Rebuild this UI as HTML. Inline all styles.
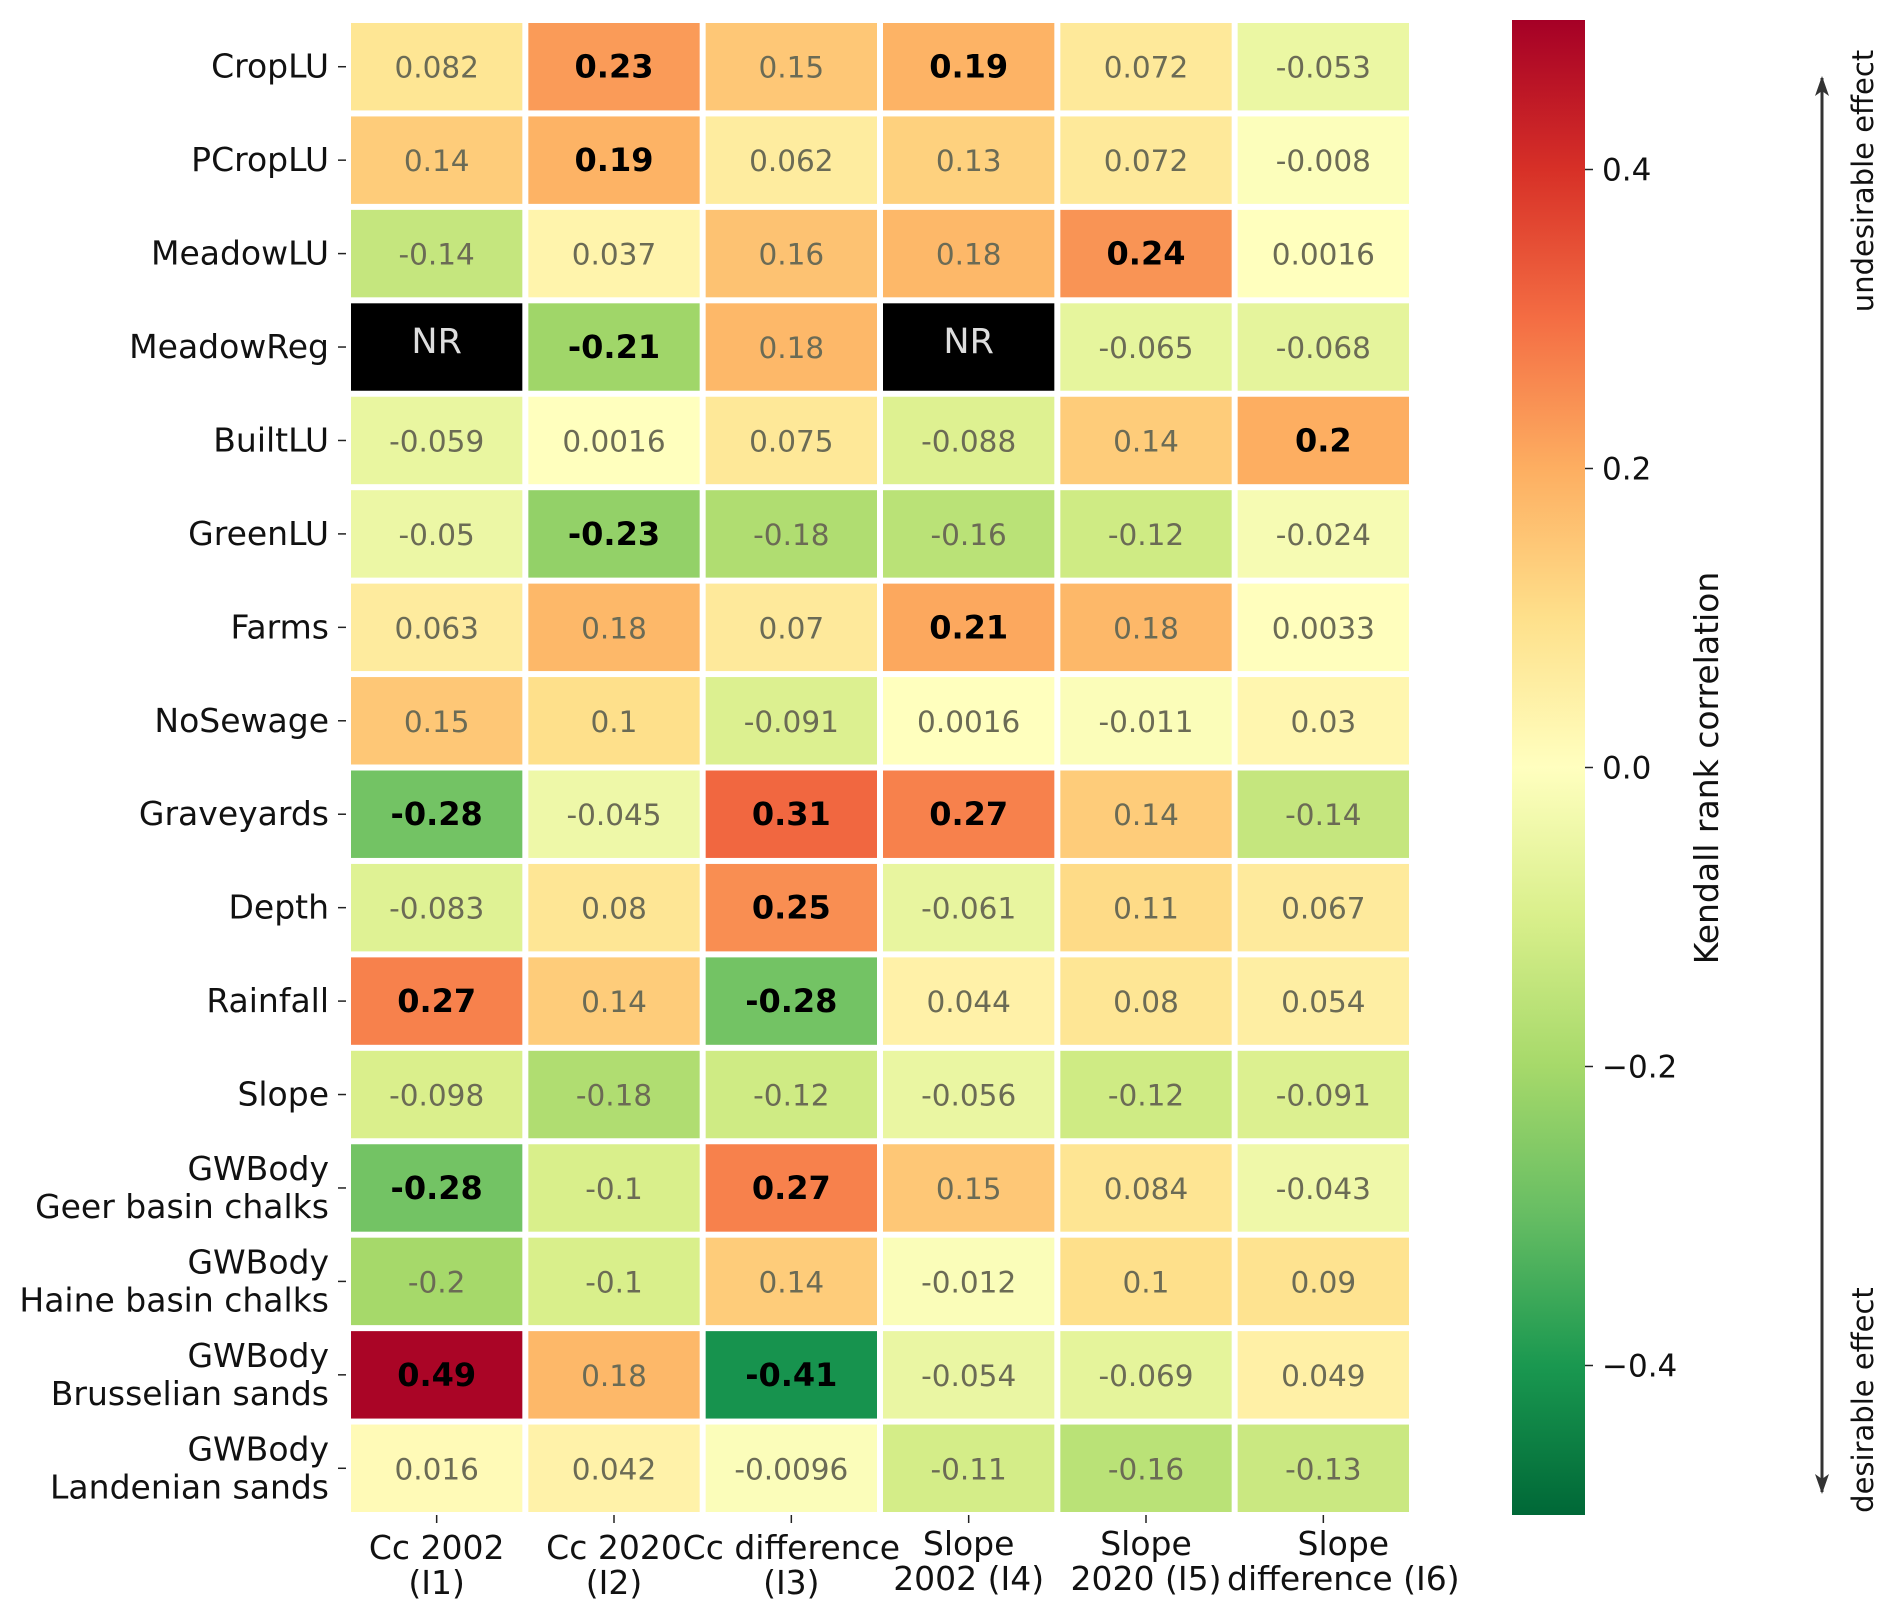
<!DOCTYPE html>
<html><head><meta charset="utf-8"><style>
html,body{margin:0;padding:0;background:#fff;}
svg{display:block;font-family:"DejaVu Sans","Liberation Sans",sans-serif;}
</style></head><body>
<svg id="chart" width="1892" height="1624" viewBox="0 0 1892 1624">
<defs>
<linearGradient id="cbgrad" x1="0" y1="1" x2="0" y2="0">
<stop offset="0" stop-color="#006837"/><stop offset="0.1" stop-color="#1a9850"/><stop offset="0.2" stop-color="#66bd63"/><stop offset="0.3" stop-color="#a6d96a"/><stop offset="0.4" stop-color="#d9ef8b"/><stop offset="0.5" stop-color="#ffffbf"/><stop offset="0.6" stop-color="#fee08b"/><stop offset="0.7" stop-color="#fdae61"/><stop offset="0.8" stop-color="#f46d43"/><stop offset="0.9" stop-color="#d73027"/><stop offset="1" stop-color="#a50026"/>
</linearGradient>
<marker id="ah" markerUnits="userSpaceOnUse" markerWidth="20" markerHeight="14" refX="18" refY="7" orient="auto-start-reverse"><path d="M0,0 L20,7 L0,14 L5,7 z" fill="#333"/></marker>
</defs>
<g id="cells"></g>
<g id="rowlabels"></g>
<g id="collabels"></g>
<rect x="1512" y="20" width="73" height="1495" fill="url(#cbgrad)"/>
<g id="cbticks"></g>
<text x="1718" y="768" font-size="33" text-anchor="middle" transform="rotate(-90 1718 768)" fill="#111">Kendall rank correlation</text>
<line x1="1822" y1="1492" x2="1822" y2="78" stroke="#333" stroke-width="3" marker-end="url(#ah)" marker-start="url(#ah)"/>
<text x="1873" y="181" font-size="29" text-anchor="middle" transform="rotate(-90 1873 181)" fill="#111">undesirable effect</text>
<text x="1873" y="1400" font-size="29" text-anchor="middle" transform="rotate(-90 1873 1400)" fill="#111">desirable effect</text>
</svg>
<script>
const rows = [["CropLU"],["PCropLU"],["MeadowLU"],["MeadowReg"],["BuiltLU"],["GreenLU"],["Farms"],["NoSewage"],["Graveyards"],["Depth"],["Rainfall"],["Slope"],["GWBody","Geer basin chalks"],["GWBody","Haine basin chalks"],["GWBody","Brusselian sands"],["GWBody","Landenian sands"]];
const cols = [["Cc 2002","(I1)"],["Cc 2020","(I2)"],["Cc difference","(I3)"],["Slope","2002 (I4)"],["Slope","2020 (I5)"],["Slope","difference (I6)"]];
const values = [
["0.082","0.23","0.15","0.19","0.072","-0.053"],
["0.14","0.19","0.062","0.13","0.072","-0.008"],
["-0.14","0.037","0.16","0.18","0.24","0.0016"],
["NR","-0.21","0.18","NR","-0.065","-0.068"],
["-0.059","0.0016","0.075","-0.088","0.14","0.2"],
["-0.05","-0.23","-0.18","-0.16","-0.12","-0.024"],
["0.063","0.18","0.07","0.21","0.18","0.0033"],
["0.15","0.1","-0.091","0.0016","-0.011","0.03"],
["-0.28","-0.045","0.31","0.27","0.14","-0.14"],
["-0.083","0.08","0.25","-0.061","0.11","0.067"],
["0.27","0.14","-0.28","0.044","0.08","0.054"],
["-0.098","-0.18","-0.12","-0.056","-0.12","-0.091"],
["-0.28","-0.1","0.27","0.15","0.084","-0.043"],
["-0.2","-0.1","0.14","-0.012","0.1","0.09"],
["0.49","0.18","-0.41","-0.054","-0.069","0.049"],
["0.016","0.042","-0.0096","-0.11","-0.16","-0.13"]];
const bold = [
[0,1,0,1,0,0],[0,1,0,0,0,0],[0,0,0,0,1,0],[0,1,0,0,0,0],[0,0,0,0,0,1],[0,1,0,0,0,0],[0,0,0,1,0,0],[0,0,0,0,0,0],
[1,0,1,1,0,0],[0,0,1,0,0,0],[1,0,1,0,0,0],[0,0,0,0,0,0],[1,0,1,0,0,0],[0,0,0,0,0,0],[1,0,1,0,0,0],[0,0,0,0,0,0]];
const cbTicks = [0.4,0.2,0.0,-0.2,-0.4];
const colLabelShift = [0,0,0,0,0,20];

const X0=348,X1=1412,Y0=20,Y1=1515,VMIN=-0.5,VMAX=0.5;
const cw=(X1-X0)/cols.length, rh=(Y1-Y0)/rows.length;
const xPos=i=>X0+i*cw, yPos=j=>Y0+j*rh;
const vY=v=>Y1-(v-VMIN)/(VMAX-VMIN)*(Y1-Y0);
const stops=["#006837","#1a9850","#66bd63","#a6d96a","#d9ef8b","#ffffbf","#fee08b","#fdae61","#f46d43","#d73027","#a50026"].map(h=>[1,3,5].map(k=>parseInt(h.substr(k,2),16)));
function cmap(v){let t=(v-VMIN)/(VMAX-VMIN);t=Math.max(0,Math.min(1,t))*10;let i=Math.min(9,Math.floor(t)),f=t-i;
 const c=stops[i].map((a,k)=>Math.round(a+(stops[i+1][k]-a)*f));return `rgb(${c})`;}
const NS="http://www.w3.org/2000/svg";
function mk(tag,attrs,parent){const e=document.createElementNS(NS,tag);for(const k in attrs)e.setAttribute(k,attrs[k]);parent.appendChild(e);return e;}
const gC=document.getElementById('cells'),gR=document.getElementById('rowlabels'),gX=document.getElementById('collabels'),gT=document.getElementById('cbticks');
values.forEach((row,j)=>row.forEach((s,i)=>{
 const nr=s==="NR";const v=nr?0:parseFloat(s);
 const r=mk('rect',{x:xPos(i)+3,y:yPos(j)+3,width:cw-6,height:rh-6,fill:nr?'#000':cmap(v)},gC);
 
 
 const b=bold[j][i];
 const t=mk('text',{x:xPos(i)+cw/2,y:yPos(j)+rh/2+(nr?6:11),'text-anchor':'middle','font-size':nr?35:b?32:29.5,'font-weight':b?'bold':'normal',fill:nr?'#ddd':b?'#000':'#6b6b55'},gC);
 t.textContent=s;
 
 
}));
rows.forEach((lab,j)=>{
 const cy=yPos(j)+rh/2;
 mk('line',{x1:338,x2:346,y1:cy,y2:cy,stroke:'#222','stroke-width':1.5},gR);
 const t=mk('text',{x:329,'text-anchor':'end','font-size':33,fill:'#111'},gR);
 
 
 if(lab.length===1){t.setAttribute('y',cy+11);t.textContent=lab[0];}
 else{lab.forEach((l,k)=>{const ts=mk('tspan',{x:329,y:cy-8+k*38},t);ts.textContent=l;});}
});
cols.forEach((lab,i)=>{
 const cx=xPos(i)+cw/2;
 mk('line',{x1:cx,x2:cx,y1:Y1,y2:Y1+8,stroke:'#222','stroke-width':1.5},gX);
 const t=mk('text',{'text-anchor':'middle','font-size':33,fill:'#111'},gX);
 
 
 const yb = i>=3 ? 1555 : 1559;
 lab.forEach((l,k)=>{const ts=mk('tspan',{x:cx+colLabelShift[i],y:yb+k*35},t);ts.textContent=l;});
});
cbTicks.forEach(v=>{
 const y=vY(v);
 mk('line',{x1:1585,x2:1593,y1:y,y2:y,stroke:'#222','stroke-width':1.5},gT);
 const t=mk('text',{x:1602,y:y+11,'font-size':31,fill:'#111'},gT);
 t.textContent=(v<0?'\u2212':'')+Math.abs(v).toFixed(1);
 
 
});
</script>
</body></html>
